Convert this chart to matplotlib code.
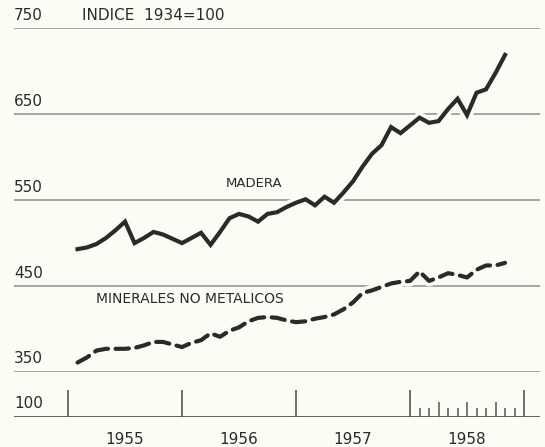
import numpy as np
import matplotlib
matplotlib.use("Agg")
import matplotlib.pyplot as plt
import matplotlib.patheffects as pe

# indices mensuales (1934 = 100), enero 1955 - octubre 1958
meses = np.arange(1, 47)
madera = [493, 495, 499, 506, 515, 525, 500, 506, 513, 510, 505, 500,
          506, 512, 498, 513, 529, 534, 531, 525, 534, 536, 542, 547,
          551, 544, 554, 547, 559, 572, 589, 604, 614, 635, 628, 637,
          646, 640, 642, 656, 668, 649, 675, 679, 698, 719]
minerales = [361, 367, 375, 377, 377, 377, 378, 381, 385, 385, 382, 379,
             384, 387, 395, 391, 398, 402, 409, 413, 414, 413, 410, 408,
             409, 412, 414, 417, 423, 431, 442, 445, 449, 453, 455, 456,
             467, 456, 460, 465, 463, 460, 469, 474, 474, 477]
niveles = [350, 450, 550, 650, 750]
anios = [1955, 1956, 1957, 1958]

fondo = "#fcfcf7"
tinta = "#2a2a2a"
gris = "#8c8c8c"

x = 1955 + meses / 12
xmin, xmax = 1954.526, 1959.14

fig = plt.figure(figsize=(5.45, 4.47), dpi=100, facecolor=fondo)

# parte superior del grafico (350 - 750)
ax = fig.add_axes([14 / 545, 75 / 447, 526 / 545, 343.7 / 447])
ax.set_facecolor(fondo)
ax.set_xlim(xmin, xmax)
ax.set_ylim(350, 750)
ax.axis("off")

for v in niveles:
    ax.axhline(v, color=gris, lw=1.1, zorder=1)
    ax.annotate(str(v), xy=(0, v), xycoords=("axes fraction", "data"),
                xytext=(0, 4), textcoords="offset points",
                ha="left", va="bottom", fontsize=11, color=tinta)

ax.annotate("INDICE  1934=100", xy=(68 / 526, 750), xycoords=("axes fraction", "data"),
            xytext=(0, 4), textcoords="offset points",
            ha="left", va="bottom", fontsize=11, color=tinta)

halo = [pe.Stroke(linewidth=8, foreground=fondo), pe.Normal()]
ax.plot(x, madera, color=tinta, lw=3, solid_joinstyle="miter",
        path_effects=halo, zorder=3, clip_on=False)
ax.plot(x, minerales, color=tinta, lw=3, linestyle=(0, (3.2, 1.8)),
        dash_capstyle="round", path_effects=halo, zorder=3, clip_on=False)

ax.text(1956.63, 569, "MADERA", ha="center", va="center", fontsize=9.5, color=tinta)
ax.text(1956.07, 435, "MINERALES NO METALICOS", ha="center", va="center",
        fontsize=10, color=tinta)

# eje inferior (corte hasta 100)
ax2 = fig.add_axes([14 / 545, 30 / 447, 526 / 545, 30 / 447])
ax2.set_facecolor(fondo)
ax2.set_xlim(xmin, xmax)
ax2.set_ylim(0, 1)
ax2.axis("off")
ax2.axhline(0, color="#555555", lw=1.3)
ax2.annotate("100", xy=(0, 0), xycoords="axes fraction",
             xytext=(0, 4), textcoords="offset points",
             ha="left", va="bottom", fontsize=11, color=tinta)

ax2.vlines(anios + [1959], 0, 0.9, color="#555555", lw=1.2)
for m in range(1, 12):
    alto = 0.5 if m % 3 == 0 else 0.3
    ax2.vlines(1958 + m / 12, 0, alto, color="#555555", lw=1.1)

for a in anios:
    ax2.annotate(str(a), xy=(a + 0.5, 0), xycoords="data",
                 xytext=(0, -11), textcoords="offset points",
                 ha="center", va="top", fontsize=11, color=tinta)

fig.savefig("out.png", dpi=100, facecolor=fondo)
